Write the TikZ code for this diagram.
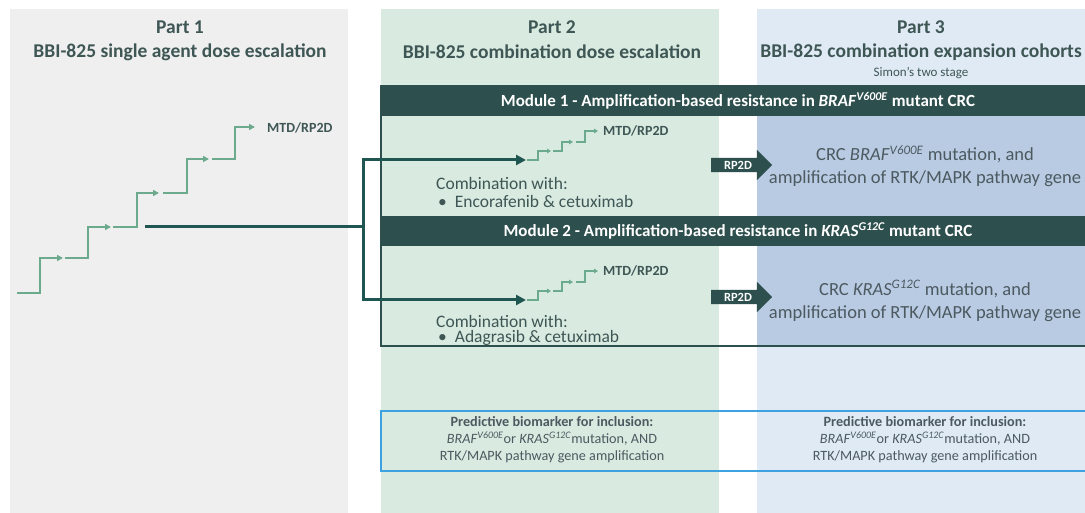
\documentclass[tikz,border=0pt]{standalone}
\usepackage{fontspec}
\setmainfont{Carlito}
\usetikzlibrary{arrows.meta,shapes.arrows}
\definecolor{pabg}{HTML}{EFEFEF}
\definecolor{pbbg}{HTML}{D9EAE1}
\definecolor{pcbg}{HTML}{DFEAF5}
\definecolor{pcdk}{HTML}{B9CAE3}
\definecolor{darkteal}{HTML}{2D4F4D}
\definecolor{connc}{HTML}{1F5651}
\definecolor{stairc}{HTML}{6BAA8D}
\definecolor{txtc}{HTML}{3E5654}
\definecolor{txtb}{HTML}{4C5A60}
\definecolor{bioc}{HTML}{3DA2DF}
\begin{document}
\begin{tikzpicture}[x=1pt,y=-1pt,
  head/.style={font=\fontsize{19.5}{22}\selectfont\bfseries, text=txtc, inner sep=0pt},
  subhead/.style={font=\fontsize{13}{15}\selectfont, text=txtc, inner sep=0pt},
  modbar/.style={fill=darkteal, draw=none},
  modtext/.style={font=\fontsize{17}{19}\selectfont\bfseries, text=white, inner sep=0pt},
  bodytext/.style={font=\fontsize{17.5}{19}\selectfont, text=txtc, inner sep=0pt, anchor=west},
  ptext/.style={font=\fontsize{18.5}{23}\selectfont, text=txtb, inner sep=0pt, align=center},
  biotext/.style={font=\fontsize{14.2}{17}\selectfont, text=txtb, inner sep=0pt, align=center},
  mtd/.style={font=\fontsize{14}{16}\selectfont\bfseries, text=txtc, inner sep=0pt, anchor=west},
  stairline/.style={draw=stairc, line width=1.9pt, -{Triangle[length=6pt,width=6pt]}},
  ministair/.style={draw=stairc, line width=1.4pt, -{Triangle[length=4pt,width=4.5pt]}},
  conn/.style={draw=connc, line width=3pt},
  rparrow/.style={single arrow, fill=darkteal, draw=none, text=white,
    font=\fontsize{12.5}{14}\selectfont\bfseries, minimum height=61pt,
    text height=9pt, text depth=0pt, inner xsep=2pt, inner ysep=2.5pt,
    single arrow head extend=8pt, single arrow tip angle=90}
]
\useasboundingbox (0,0) rectangle (1085,513);
\clip (0,0) rectangle (1085,513);
% panels
\fill[white] (0,0) rectangle (1085,513);
\fill[pabg] (10,9) rectangle (348,513);
\fill[pbbg] (381,9) rectangle (719,513);
\fill[pcbg] (757,9) rectangle (1085,513);
\fill[pcdk] (757,116) rectangle (1085,216);
\fill[pcdk] (757,246) rectangle (1085,346);
% headers
\node[head] (h1a) at (180,27) {Part 1};
\node[head] (h1b) at (180,52) {BBI-825 single agent dose escalation};
\node[head] (h2a) at (552,27) {Part 2};
\node[head] (h2b) at (552,52) {BBI-825 combination dose escalation};
\node[head] (h3a) at (921,27) {Part 3};
\node[head] (h3b) at (921,52) {BBI-825 combination expansion cohorts};
\node[subhead] (h3c) at (921,73) {Simon's two stage};
% module box and bars
\draw[darkteal, line width=1.3pt] (381,86) rectangle (1090,346);
\fill[modbar] (381,86) rectangle (1090,116);
\fill[modbar] (381,216) rectangle (1090,246);
\node[modtext] (m1) at (738,101) {Module 1 - Amplification-based resistance in \textit{BRAF}\textsuperscript{\textit{V600E}} mutant CRC};
\node[modtext] (m2) at (738,231) {Module 2 - Amplification-based resistance in \textit{KRAS}\textsuperscript{\textit{G12C}} mutant CRC};
% part 1 staircase
\foreach \sx/\sy/\vx/\ny/\ax in {17/293/40/258/63, 65/258/88/227/111, 113/227/137/193/159, 163/193/187/159/209, 212/159/235/127/255}
  \draw[stairline] (\sx,\sy) -- (\vx,\sy) -- (\vx,\ny) -- (\ax,\ny);
\node[mtd] (mtd1) at (267,128) {MTD/RP2D};
% mini staircases
\foreach \dy in {0,140}{
  \foreach \sx/\sy/\vx/\ny/\ax in {527/160/538/151/551, 553/151/562/142/573, 576/142/585/131/598}
    \draw[ministair] (\sx,\sy+\dy) -- (\vx,\sy+\dy) -- (\vx,\ny+\dy) -- (\ax,\ny+\dy);
}
\node[mtd] (mtd2) at (603,131) {MTD/RP2D};
\node[mtd] (mtd3) at (603,271) {MTD/RP2D};
% connectors
\coordinate (p1out) at (145,227);
\coordinate (junc) at (363,227);
\coordinate (in1) at (526,160);
\coordinate (in2) at (526,300);
\draw[conn] (p1out) -- (junc);
\draw[conn, -{Triangle[length=10pt,width=10pt]}] (junc) |- (in1);
\draw[conn, -{Triangle[length=10pt,width=10pt]}] (junc) |- (in2);
% combination texts
\node[bodytext] (c1) at (436,183) {Combination with:};
\node[bodytext] (c1b) at (438,201) {\textbullet\hspace{8pt}Encorafenib \& cetuximab};
\node[bodytext] (c2) at (436,321) {Combination with:};
\node[bodytext] (c2b) at (438,338) {\textbullet\hspace{8pt}Adagrasib \& cetuximab};
% RP2D arrows
\node[rparrow] (r1) at (738,165) {RP2D};
\node[rparrow] (r2) at (738,297) {RP2D};
% part 3 texts
\node[ptext] (t1) at (925,166) {CRC \textit{BRAF}\textsuperscript{\textit{V600E}} mutation, and\\amplification of RTK/MAPK pathway gene};
\node[ptext] (t2) at (925,301) {CRC \textit{KRAS}\textsuperscript{\textit{G12C}} mutation, and\\amplification of RTK/MAPK pathway gene};
% biomarker box
\draw[bioc, line width=1.3pt] (381,411) rectangle (1090,471);
\node[biotext] (b1) at (552,440) {\textbf{Predictive biomarker for inclusion:}\\\textit{BRAF}\textsuperscript{\textit{V600E}}or \textit{KRAS}\textsuperscript{\textit{G12C}}mutation, AND\\RTK/MAPK pathway gene amplification};
\node[biotext] (b2) at (925,440) {\textbf{Predictive biomarker for inclusion:}\\\textit{BRAF}\textsuperscript{\textit{V600E}}or \textit{KRAS}\textsuperscript{\textit{G12C}}mutation, AND\\RTK/MAPK pathway gene amplification};
\end{tikzpicture}
\end{document}
